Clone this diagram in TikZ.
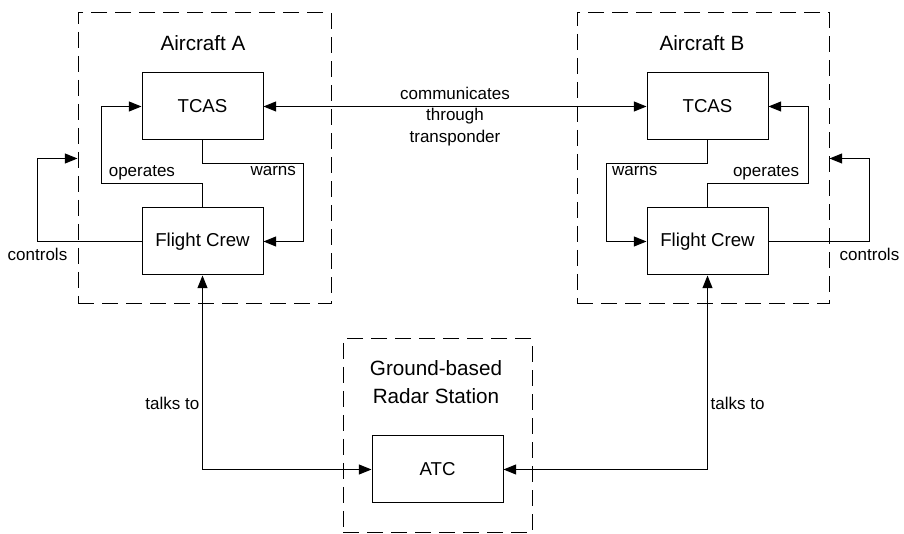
\documentclass[tikz,border=0pt]{standalone}
\usepackage{fontspec}
\setmainfont{Liberation Sans}
\usetikzlibrary{arrows.meta, positioning}

\begin{document}
\begin{tikzpicture}[x=0.75pt, y=-0.75pt, line width=0.75pt,
    box/.style={rectangle, draw, minimum width=90.75pt, minimum height=50.25pt, font=\fontsize{14}{16}\selectfont},
    frame/.style={rectangle, draw, dash pattern=on 12pt off 6pt, inner sep=0pt},
    title/.style={font=\fontsize{15.5}{21}\selectfont, align=center},
    lbl/.style={font=\fontsize{12.75}{16}\selectfont, inner sep=2pt},
    flow/.style={-{Triangle[length=9.5pt,width=7.5pt]}},
    twoway/.style={{Triangle[length=9.5pt,width=7.5pt]}-{Triangle[length=9.5pt,width=7.5pt]}}]
    \useasboundingbox (0,0) rectangle (904,534);

    % dashed containers
    \node (frameA) [frame, minimum width=189.75pt, minimum height=218.25pt] at (204.5,158.5) {};
    \node (frameB) [frame, minimum width=189pt, minimum height=218.25pt] at (703,158.5) {};
    \node (frameG) [frame, minimum width=141.75pt, minimum height=145.5pt] at (437.5,436) {};

    \node (titleA) [title] at (203,43) {Aircraft A};
    \node (titleB) [title] at (702,43) {Aircraft B};
    \node (titleG) [title] at (436,382) {Ground-based\\Radar Station};

    % components
    \node (tcasA) [box] at (202.5,106.5) {TCAS};
    \node (crewA) [box, below=50.25pt of tcasA] {Flight Crew};
    \node (tcasB) [box, right=287.25pt of tcasA] {TCAS};
    \node (crewB) [box, below=50.25pt of tcasB] {Flight Crew};
    \node (atc) [box, minimum width=98.25pt] at (437.5,469.5) {ATC};

    % aircraft A
    \draw [flow] (crewA.north) -- ++(0,-24) -| node[lbl, above, pos=0.3]{operates} ([xshift=-30pt]tcasA.west) -- (tcasA.west);
    \draw [flow] (tcasA.south) -- ++(0,23) -| node[lbl, below, pos=0.35]{warns} ([xshift=30pt]crewA.east) -- (crewA.east);
    \draw [flow] (crewA.west) -| node[lbl, below=3pt, pos=0.5]{controls} ([xshift=-30pt]frameA.west) -- (frameA.west);

    % aircraft B
    \draw [flow] (crewB.north) -- ++(0,-24) -| node[lbl, above, pos=0.29]{operates} ([xshift=30pt]tcasB.east) -- (tcasB.east);
    \draw [flow] (tcasB.south) -- ++(0,23) -| node[lbl, below, pos=0.36]{warns} ([xshift=-30pt]crewB.west) -- (crewB.west);
    \draw [flow] (crewB.east) -| node[lbl, below=3pt, pos=0.5]{controls} ([xshift=30pt]frameB.east) -- (frameB.east);

    % between aircraft and ground
    \draw [twoway] (tcasA.east) -- node[lbl, midway, yshift=-7.5pt, align=center]{communicates\\through\\transponder} (tcasB.west);
    \draw [twoway] (crewA.south) |- node[lbl, left, pos=0.33]{talks to} (atc.west);
    \draw [twoway] (crewB.south) |- node[lbl, right, pos=0.33]{talks to} (atc.east);
\end{tikzpicture}
\end{document}
